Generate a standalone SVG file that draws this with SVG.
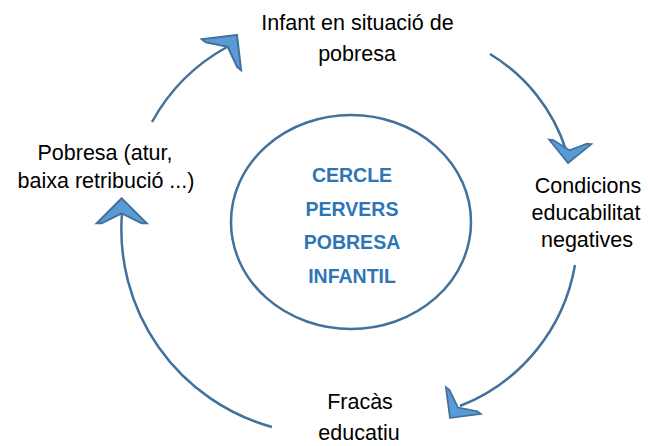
<svg xmlns="http://www.w3.org/2000/svg" width="648" height="446" viewBox="0 0 648 446">
<style>
.lbl{font-family:"Liberation Sans",Arial,sans-serif;font-size:21.5px;fill:#000;text-anchor:middle}
.ctr{font-family:"Liberation Sans",Arial,sans-serif;font-size:19.5px;font-weight:bold;fill:#2E75B6;text-anchor:middle}
.arc{fill:none;stroke:#41719C;stroke-width:2.5}
.head{fill:#5B9BD5;stroke:#41719C;stroke-width:2;stroke-linejoin:miter}
</style>
<defs>
<path id="ah" d="M0,0 L-25,-25 L-25,-20 L-15,0 L-25,20 L-25,25 Z"/>
</defs>
<rect width="648" height="446" fill="#fff"/>
<g id="center">
<ellipse cx="351" cy="222" rx="120" ry="107" fill="#fff" stroke="#41719C" stroke-width="2.5"/>
<text class="ctr" x="352" y="182">CERCLE</text>
<text class="ctr" x="352" y="216">PERVERS</text>
<text class="ctr" x="352" y="249">POBRESA</text>
<text class="ctr" x="352" y="283">INFANTIL</text>
</g>
<g id="connectors">
<path class="arc" d="M152,122 A190,190 0 0 1 227,47"/>
<use href="#ah" class="head" transform="translate(237,35) rotate(-51.7)"/>
<path class="arc" d="M490,54 A175,175 0 0 1 566,150"/>
<use href="#ah" class="head" transform="translate(568,163) rotate(96) scale(0.85)"/>
<path class="arc" d="M575,265 A185,185 0 0 1 460,406"/>
<use href="#ah" class="head" transform="translate(450,418) rotate(127.4) scale(0.88)"/>
<path class="arc" d="M272,427 A205,205 0 0 1 122,213"/>
<use href="#ah" class="head" transform="translate(121.7,198.3) rotate(-90)"/>
</g>
<g id="n-top">
<text class="lbl" x="357.5" y="30">Infant en situació de</text>
<text class="lbl" x="357" y="61">pobresa</text>
</g>
<g id="n-right">
<text class="lbl" x="588" y="193">Condicions</text>
<text class="lbl" x="586" y="220">educabilitat</text>
<text class="lbl" x="587" y="247">negatives</text>
</g>
<g id="n-bottom">
<text class="lbl" x="360" y="409">Fracàs</text>
<text class="lbl" x="359" y="440">educatiu</text>
</g>
<g id="n-left">
<text class="lbl" x="105" y="160">Pobresa (atur,</text>
<text class="lbl" x="106" y="188">baixa retribució ...)</text>
</g>
</svg>
